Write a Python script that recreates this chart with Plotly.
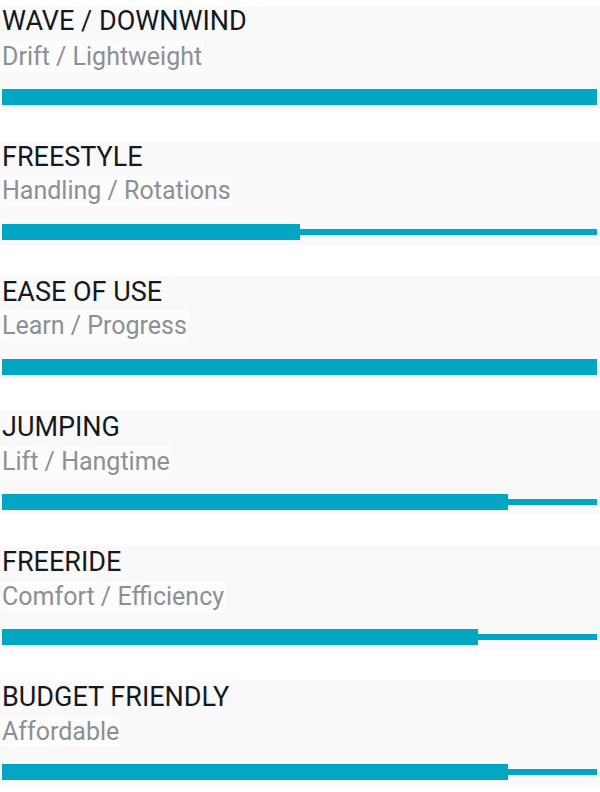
import plotly.graph_objects as go
from plotly.subplots import make_subplots

# ratings shown on the product card
categories = ['WAVE / DOWNWIND', 'FREESTYLE', 'EASE OF USE', 'JUMPING', 'FREERIDE', 'BUDGET FRIENDLY']
subtitles = ['Drift / Lightweight', 'Handling / Rotations', 'Learn / Progress',
             'Lift / Hangtime', 'Comfort / Efficiency', 'Affordable']
values = [100, 50, 100, 85, 80, 85]
scale_max = 100

W, H = 600, 792
panel_top = 6
panel_step = 135
panel_h = 104
bar_y = 91

accent = '#01a6c3'
panel_bg = '#f9f9f9'

fig = make_subplots(rows=len(categories), cols=1)

for i, (cat, sub, val) in enumerate(zip(categories, subtitles, values)):
    r = i + 1
    # thin full-length track
    fig.add_trace(go.Bar(x=[scale_max], y=[bar_y], orientation='h', width=6,
                         marker=dict(color=accent, line=dict(width=0)),
                         hoverinfo='skip', showlegend=False), row=r, col=1)
    # thick value bar
    fig.add_trace(go.Bar(x=[val], y=[bar_y], orientation='h', width=16,
                         marker=dict(color=accent, line=dict(width=0)),
                         name=cat, showlegend=False), row=r, col=1)

    top = panel_top + panel_step * i
    y0 = 1 - (top + panel_h) / H
    y1 = 1 - top / H
    xa = 'xaxis' if r == 1 else f'xaxis{r}'
    ya = 'yaxis' if r == 1 else f'yaxis{r}'
    fig.layout[xa].update(domain=[2 / W, 597 / W], range=[0, scale_max],
                          visible=False, fixedrange=True)
    fig.layout[ya].update(domain=[y0, y1], range=[panel_h, 0],
                          visible=False, fixedrange=True)

    # panel background
    fig.add_shape(type='rect', xref='paper', yref='paper', x0=0, x1=1, y0=y0, y1=y1,
                  fillcolor=panel_bg, line=dict(width=0), layer='below')

    fig.add_annotation(text=cat, xref='paper', yref='paper', x=0, y=1 - (top + 15.5) / H,
                       xanchor='left', yanchor='middle', showarrow=False,
                       font=dict(family='Roboto', size=27, color='#15191d'))
    fig.add_annotation(text=sub, xref='paper', yref='paper', x=0, y=1 - (top + 50) / H,
                       xanchor='left', yanchor='middle', showarrow=False,
                       bgcolor='#fcfcfc',
                       font=dict(family='Roboto', size=25, color='#8b9095'))

fig.update_layout(width=W, height=H, margin=dict(l=0, r=0, t=0, b=0),
                  paper_bgcolor='white', plot_bgcolor='rgba(0,0,0,0)',
                  barmode='overlay', bargap=0)

fig.write_html('out.html', config={'displayModeBar': False},
               post_script="document.body.style.margin='0';")
